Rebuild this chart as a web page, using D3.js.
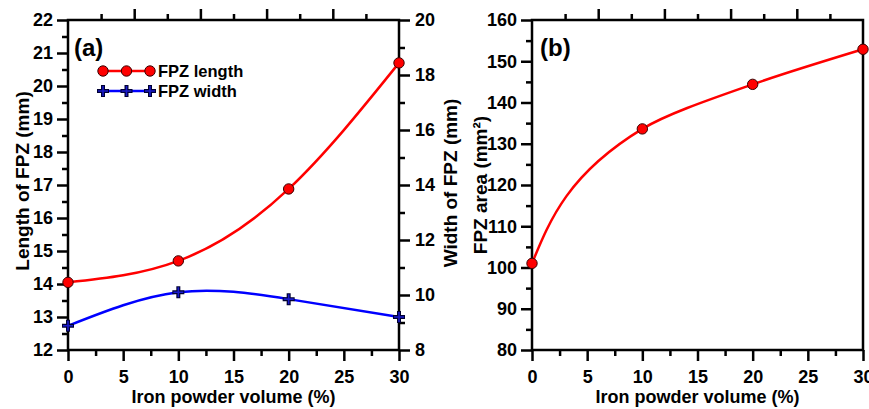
<!DOCTYPE html>
<html><head><meta charset="utf-8">
<script src="https://cdn.jsdelivr.net/npm/d3@7"></script>
<style>
body{margin:0;background:#fff;}
text{font-family:"Liberation Sans",Arial,sans-serif;font-weight:bold;fill:#000;}
</style></head>
<body><svg id="c" width="869" height="409"></svg>
<script>
const volumes = [0, 10, 20, 30];
const fpzLength = [14.05, 14.7, 16.88, 20.7];
const fpzWidth = [8.88, 10.1, 9.85, 9.2];
const fpzArea = [101, 133.6, 144.4, 152.9];
const xTicks = [0, 5, 10, 15, 20, 25, 30];
const lenTicks = [12, 13, 14, 15, 16, 17, 18, 19, 20, 21, 22];
const widTicks = [8, 10, 12, 14, 16, 18, 20];
const areaTicks = [80, 90, 100, 110, 120, 130, 140, 150, 160];

const svg = d3.select("#c");
const AX = 2.5, MAJ = 11, MIN = 6, TF = "18px";

function styleAxis(g){
  g.selectAll("path.domain").remove();
  g.selectAll("line").attr("stroke","#000").attr("stroke-width",AX);
  g.selectAll("text").style("font-size",TF).style("font-weight","bold")
    .style("font-family","'Liberation Sans',Arial,sans-serif");
}

function frame(left, right, top, bottom){
  const x = d3.scaleLinear().domain([0,30]).range([left,right]);
  const gb = svg.append("g").attr("transform",`translate(0,${bottom})`);
  gb.call(d3.axisBottom(x).tickValues(xTicks).tickSize(MAJ).tickPadding(9).tickFormat(d3.format("d")));
  styleAxis(gb);
  const gbm = svg.append("g").attr("transform",`translate(0,${bottom})`);
  gbm.call(d3.axisBottom(x).tickValues(d3.range(2.5,30,5)).tickSize(MIN).tickFormat(""));
  styleAxis(gbm);
  const gt = svg.append("g").attr("transform",`translate(0,${top})`);
  gt.call(d3.axisTop(x).tickValues([6,12,18,24]).tickSize(MAJ).tickFormat(""));
  styleAxis(gt);
  const gtm = svg.append("g").attr("transform",`translate(0,${top})`);
  gtm.call(d3.axisTop(x).tickValues([3,9,15,21,27]).tickSize(MIN).tickFormat(""));
  styleAxis(gtm);
  return x;
}

function box(left,right,top,bottom){
  svg.append("rect").attr("x",left).attr("y",top).attr("width",right-left).attr("height",bottom-top)
    .attr("fill","none").attr("stroke","#000").attr("stroke-width",AX);
}

function plusPath(cx,cy,s){
  return `M${cx-s},${cy}H${cx+s}M${cx},${cy-s}V${cy+s}`;
}
function drawPlus(g,cx,cy){
  g.append("path").attr("d",plusPath(cx,cy,6)).attr("stroke","#000033").attr("stroke-width",4).attr("fill","none");
  g.append("path").attr("d",plusPath(cx,cy,5)).attr("stroke","#1a1acc").attr("stroke-width",1.6).attr("fill","none");
}
function drawCircle(g,cx,cy){
  g.append("circle").attr("cx",cx).attr("cy",cy).attr("r",5.2).attr("fill","#ff0000").attr("stroke","#3a0000").attr("stroke-width",1);
}

// ---------- Panel (a) ----------
const aL=68, aR=399, aT=20, aB=350;
const xa = frame(aL,aR,aT,aB);
const yL = d3.scaleLinear().domain([12,22]).range([aB,aT]);
const yW = d3.scaleLinear().domain([8,20]).range([aB,aT]);
{
  const g = svg.append("g").attr("transform",`translate(${aL},0)`);
  g.call(d3.axisLeft(yL).tickValues(lenTicks).tickSize(MAJ).tickPadding(4).tickFormat(d3.format("d")));
  styleAxis(g);
  const gm = svg.append("g").attr("transform",`translate(${aL},0)`);
  gm.call(d3.axisLeft(yL).tickValues(d3.range(12.5,22,1)).tickSize(MIN).tickFormat(""));
  styleAxis(gm);
  const gr = svg.append("g").attr("transform",`translate(${aR},0)`);
  gr.call(d3.axisRight(yW).tickValues(widTicks).tickSize(MAJ).tickPadding(5).tickFormat(d3.format("d")));
  styleAxis(gr);
  const grm = svg.append("g").attr("transform",`translate(${aR},0)`);
  grm.call(d3.axisRight(yW).tickValues(d3.range(9,20,2)).tickSize(MIN).tickFormat(""));
  styleAxis(grm);
}
box(aL,aR,aT,aB);

const lineL = d3.line().x((d,i)=>xa(volumes[i])).y(d=>yL(d)).curve(d3.curveNatural);
const lineW = d3.line().x((d,i)=>xa(volumes[i])).y(d=>yW(d)).curve(d3.curveNatural);
svg.append("path").attr("d",lineL(fpzLength)).attr("fill","none").attr("stroke","#ff0000").attr("stroke-width",2.5);
svg.append("path").attr("d",lineW(fpzWidth)).attr("fill","none").attr("stroke","#0000ff").attr("stroke-width",2.5);
const mk = svg.append("g");
fpzLength.forEach((v,i)=>drawCircle(mk,xa(volumes[i]),yL(v)));
fpzWidth.forEach((v,i)=>drawPlus(mk,xa(volumes[i]),yW(v)));

// legend
const lg = svg.append("g");
lg.append("line").attr("x1",103).attr("x2",150).attr("y1",71).attr("y2",71).attr("stroke","#ff0000").attr("stroke-width",2.5);
[103,126.5,150].forEach(cx=>drawCircle(lg,cx,71));
lg.append("text").attr("x",158).attr("y",77).style("font-size","16.5px").text("FPZ length");
lg.append("line").attr("x1",103).attr("x2",150).attr("y1",91).attr("y2",91).attr("stroke","#0000ff").attr("stroke-width",2.5);
[103,126.5,150].forEach(cx=>drawPlus(lg,cx,91));
lg.append("text").attr("x",158).attr("y",97).style("font-size","16.5px").text("FPZ width");

svg.append("text").attr("x",74).attr("y",56).style("font-size","24px").text("(a)");

svg.append("text").attr("x",(aL+aR)/2).attr("y",403).attr("text-anchor","middle").style("font-size","18px").text("Iron powder volume (%)");
svg.append("text").attr("transform",`translate(29,181) rotate(-90)`).attr("text-anchor","middle").style("font-size","19px").text("Length of FPZ (mm)");
svg.append("text").attr("transform",`translate(457,183) rotate(-90)`).attr("text-anchor","middle").style("font-size","19px").text("Width of FPZ (mm)");

// ---------- Panel (b) ----------
const bL=532, bR=863, bT=20, bB=350;
const xb = frame(bL,bR,bT,bB);
const yA = d3.scaleLinear().domain([80,160]).range([bB,bT]);
{
  const g = svg.append("g").attr("transform",`translate(${bL},0)`);
  g.call(d3.axisLeft(yA).tickValues(areaTicks).tickSize(MAJ).tickPadding(4).tickFormat(d3.format("d")));
  styleAxis(g);
  const gm = svg.append("g").attr("transform",`translate(${bL},0)`);
  gm.call(d3.axisLeft(yA).tickValues(d3.range(85,160,10)).tickSize(MIN).tickFormat(""));
  styleAxis(gm);
}
box(bL,bR,bT,bB);
const lineA = d3.line().x((d,i)=>xb(volumes[i])).y(d=>yA(d)).curve(d3.curveMonotoneY);
svg.append("path").attr("d",lineA(fpzArea)).attr("fill","none").attr("stroke","#ff0000").attr("stroke-width",2.5);
const mkb = svg.append("g");
fpzArea.forEach((v,i)=>drawCircle(mkb,xb(volumes[i]),yA(v)));

svg.append("text").attr("x",540).attr("y",56).style("font-size","24px").text("(b)");
svg.append("text").attr("x",(bL+bR)/2).attr("y",403).attr("text-anchor","middle").style("font-size","18px").text("Iron powder volume (%)");
svg.append("text").attr("transform",`translate(487,185) rotate(-90)`).attr("text-anchor","middle").style("font-size","19px").text("FPZ area (mm²)");
</script></body></html>
